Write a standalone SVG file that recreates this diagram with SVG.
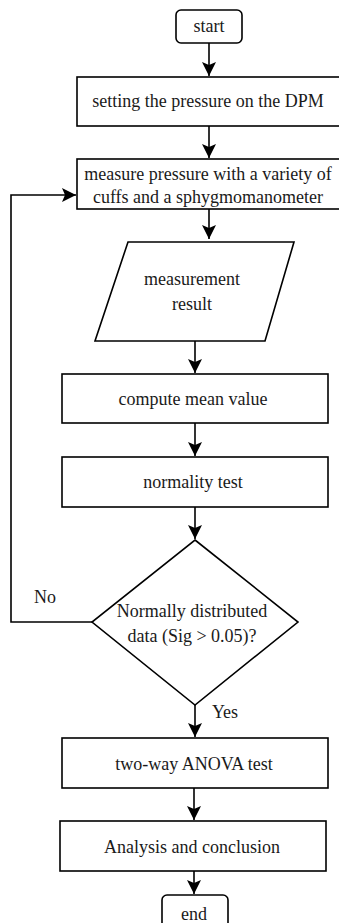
<svg xmlns="http://www.w3.org/2000/svg" width="339" height="923" viewBox="0 0 339 923">
<style>
.n{fill:#fff;stroke:#000;stroke-width:1.6}
.t{font-family:'Liberation Serif','DejaVu Serif',serif;font-size:18px;fill:#1a1a1a;text-anchor:middle}
.c{fill:none;stroke:#000;stroke-width:1.6}
</style>
<defs>
<marker id="ah" markerUnits="userSpaceOnUse" markerWidth="16" markerHeight="16" refX="14" refY="7" orient="auto">
<path d="M0,0 L14,7 L0,14 L3,7 z" fill="#000"/>
</marker>
</defs>
<rect width="339" height="923" fill="#fff"/>
<g id="connectors">
<path class="c" d="M209,43 V76" marker-end="url(#ah)"/>
<path class="c" d="M209,126 V158" marker-end="url(#ah)"/>
<path class="c" d="M209,209 V239" marker-end="url(#ah)"/>
<path class="c" d="M195,341 V373" marker-end="url(#ah)"/>
<path class="c" d="M195,423 V456" marker-end="url(#ah)"/>
<path class="c" d="M195,507 V539" marker-end="url(#ah)"/>
<path class="c" d="M195,705 V737" marker-end="url(#ah)"/>
<path class="c" d="M194,788 V820" marker-end="url(#ah)"/>
<path class="c" d="M194,871 V894" marker-end="url(#ah)"/>
<path class="c" d="M92,622 H11 V195 H76" marker-end="url(#ah)"/>
<text class="t" x="45" y="603" font-family="Liberation Serif, serif">No</text>
<text class="t" x="225" y="718" font-family="Liberation Serif, serif">Yes</text>
</g>
<g id="start" font-family="Liberation Serif, serif"><rect class="n" x="176" y="10" width="66" height="33" rx="5"/><text class="t" x="209" y="32">start</text></g>
<g id="setting"><rect class="n" x="77" y="77" width="264" height="49"/><text class="t" x="208" y="107">setting the pressure on the DPM</text></g>
<g id="measure"><rect class="n" x="77" y="159" width="264" height="50"/><text class="t" x="208" y="180">measure pressure with a variety of</text><text class="t" x="208" y="203">cuffs and a sphygmomanometer</text></g>
<g id="result"><polygon class="n" points="128,242 294,242 265,341 95,341"/><text class="t" x="192" y="285">measurement</text><text class="t" x="192" y="310">result</text></g>
<g id="mean"><rect class="n" x="62" y="374" width="266" height="49"/><text class="t" x="193" y="405">compute mean value</text></g>
<g id="normality"><rect class="n" x="62" y="457" width="266" height="50"/><text class="t" x="193" y="488">normality test</text></g>
<g id="decision"><polygon class="n" points="195,540 298,622 195,705 92,622"/><text class="t" x="192" y="617">Normally distributed</text><text class="t" x="192" y="642">data (Sig &gt; 0.05)?</text></g>
<g id="anova"><rect class="n" x="62" y="738" width="266" height="50"/><text class="t" x="194" y="770">two-way ANOVA test</text></g>
<g id="analysis"><rect class="n" x="60" y="821" width="266" height="50"/><text class="t" x="192" y="853">Analysis and conclusion</text></g>
<g id="end"><rect class="n" x="162" y="895" width="66" height="40" rx="5"/><text class="t" x="194" y="920">end</text></g>
</svg>
